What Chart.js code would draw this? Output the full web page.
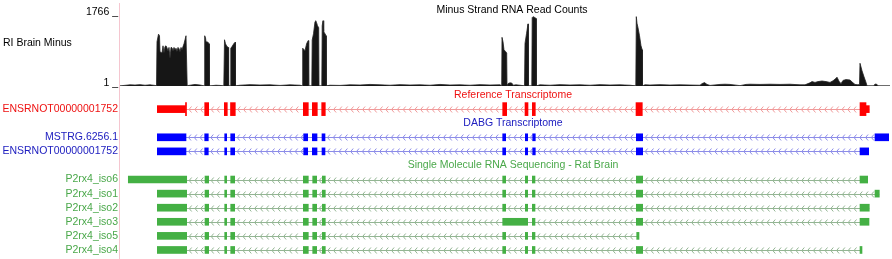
<!DOCTYPE html>
<html>
<head>
<meta charset="utf-8">
<script src="https://cdn.jsdelivr.net/npm/chart.js@4"></script>
<style>
  html, body { margin: 0; padding: 0; background: #fff; }
  #wrap { position: relative; width: 892px; height: 259px; overflow: hidden; }
  #sig { position: absolute; left: 0; top: 0; }
  #genes { position: absolute; left: 0; top: 88px; }
</style>
</head>
<body>
<div id="wrap">
  <canvas id="sig" width="892" height="88"></canvas>
  <canvas id="genes" width="892" height="171"></canvas>
</div>
<script>
// positions are in 100 bp bins from the left edge of the window
var signalPos = [0, 2, 10, 15, 20, 25, 30, 35, 36.5, 37, 38.5, 39.5, 40, 42, 43, 44, 45, 46, 47, 48, 49, 50, 51, 52, 53, 54, 55, 56, 57, 58, 59, 60, 61, 62, 63, 64, 65, 66, 66.8, 67.2,
  70, 75, 80, 83, 84.3, 84.7, 85.5, 86, 88, 89, 89.4, 92, 96, 100, 103.8, 104.5, 105.5, 107, 108.3, 108.6, 110.5, 110.8, 112, 114, 115.2, 115.5,
  120, 130, 140, 150, 160, 170, 180, 182.3, 182.7, 185, 186.7, 188.3, 188.7, 191.8, 192.2, 193.5, 195, 195.7, 196.5, 197.5, 198.7, 199,
  201.8, 202.2, 203, 203.7, 205, 206, 206.3, 210, 220, 230, 240, 250, 260, 270, 280, 290, 300, 310, 320, 330, 340, 350, 360, 370, 380,
  381.7, 382, 383, 384, 385.5, 386.7, 387, 388, 390, 392, 393, 396, 400, 404.5, 405, 406.5, 408, 408.4, 411.8, 412.2, 413, 415, 416, 416.3,
  420, 430, 440, 450, 460, 470, 480, 490, 500, 510, 515.8, 516.3, 517, 518, 519.5, 521, 522.2, 522.5, 525, 530, 540, 550, 560, 570, 580,
  582, 584.5, 587, 590, 600, 605, 610, 620, 626, 630, 640, 650, 660, 670, 680, 685, 690, 692, 695, 698, 702, 706, 710, 713, 715, 717, 719,
  721, 723, 726, 730, 733, 735, 738, 739.5, 740, 742, 744, 746, 747, 754, 755, 757, 758, 770];
var signalVal = [5, 10, 30, 25, 35, 20, 30, 15, 5, 1100, 1290, 1250, 850, 820, 1000, 830, 980, 1000, 950, 870, 960, 700, 960, 950, 880, 960, 900, 940, 860, 960, 930, 850, 960, 900, 980, 1050, 1150, 1250, 1250, 10,
  20, 40, 25, 10, 5, 1250, 1200, 1100, 1090, 1050, 5, 10, 20, 15, 5, 1150, 1050, 980, 960, 5, 5, 940, 980, 1060, 1090, 5,
  20, 35, 25, 30, 15, 30, 20, 5, 940, 880, 1060, 1130, 5, 5, 1145, 1300, 1600, 1625, 1580, 1500, 1450, 5,
  5, 1500, 1625, 1350, 1300, 1250, 5, 20, 15, 30, 25, 40, 30, 20, 35, 25, 30, 20, 40, 25, 30, 20, 35, 25, 30,
  5, 1210, 1100, 900, 860, 820, 5, 60, 80, 70, 20, 30, 20, 5, 1060, 1300, 1545, 5, 5, 1700, 1725, 1700, 1680, 5,
  30, 20, 35, 25, 30, 20, 35, 25, 30, 20, 5, 1725, 1560, 1450, 1250, 1000, 900, 5, 30, 25, 35, 25, 30, 25, 20,
  60, 85, 40, 15, 40, 45, 40, 10, 40, 45, 40, 45, 40, 45, 30, 30, 80, 110, 90, 110, 125, 110, 90, 130, 170, 220, 120,
  60, 140, 160, 150, 80, 40, 30, 40, 565, 380, 230, 90, 5, 5, 50, 40, 5, 5];
var signalTicks = [1, 1766];

// gene model rows, top to bottom
var rowNames = ['', 'ENSRNOT00000001752', '', 'MSTRG.6256.1', 'ENSRNOT00000001752', '',
  'P2rx4_iso6', 'P2rx4_iso1', 'P2rx4_iso2', 'P2rx4_iso3', 'P2rx4_iso5', 'P2rx4_iso4'];
var trackTitles = ['Reference Transcriptome', 'DABG Transcriptome', 'Single Molecule RNA Sequencing - Rat Brain'];

var refUtrExons = [[37.3, 65.5], [746, 749.3]];
var refCdsExons = [[65.5, 66.5], [84.7, 88.7], [104.3, 107.3], [110.5, 115.3], [183.3, 188.3], [192.3, 197.3], [201.7, 205.3],
  [382.7, 386.7], [405, 408], [412.3, 415.3], [516, 522.3], [740, 746]];
var mstrgExons = [[37.3, 66], [84.7, 88.3], [104.7, 106.7], [110.7, 114.7], [183.7, 187.7], [192.3, 197], [202, 205],
  [382.7, 385.7], [405.3, 407.7], [412.7, 415.3], [516.3, 522.7], [755, 768.7]];
var dabgEnsExons = [[37.3, 66], [84.7, 88.3], [104.7, 106.7], [110.7, 114.7], [183.7, 187.7], [192.3, 197], [202, 205],
  [382.7, 385.7], [405.3, 407.7], [412.7, 415.3], [516.3, 522.7], [740, 748.7]];
var iso6Exons = [[8.3, 66.7], [85, 88.7], [104.7, 106.7], [110.7, 114.7], [183.3, 188.3], [192.7, 196.7], [202.3, 205.3],
  [382.7, 385.7], [405.3, 407.7], [412.3, 415], [516.3, 522.7], [740, 747.7]];
var iso1Exons = [[37.3, 66.7], [85, 88.7], [104.7, 106.7], [110.7, 114.7], [183.3, 188.3], [192.7, 196.7], [202.3, 205.3],
  [382.7, 385.7], [405.3, 407.7], [412.3, 415], [516.3, 522.7], [755, 759.3]];
var iso2Exons = [[37.3, 66.7], [85, 88.7], [104.7, 106.7], [110.7, 114.7], [183.3, 188.3], [192.7, 196.7], [202.3, 205.3],
  [382.7, 385.7], [405.3, 407.7], [412.3, 415], [516.3, 522.7], [740, 749.3]];
var iso3Exons = [[37.3, 66.7], [85, 88.7], [104.7, 106.7], [110.7, 114.7], [183.3, 188.3], [192.7, 196.7], [202.3, 205.3],
  [382.7, 407.7], [412.3, 415], [516.3, 522.7], [740, 749]];
var iso5Exons = [[37.3, 66.7], [85, 88.7], [104.7, 106.7], [110.7, 114.7], [183.3, 188.3], [192.7, 196.7], [202.3, 205.3],
  [382.7, 385.7], [405.3, 407.7], [412.3, 415], [516.7, 519]];
var iso4Exons = [[37.3, 66.7], [85, 88.7], [104.7, 106.7], [110.7, 114.7], [183.3, 188.3], [192.7, 196.7], [202.3, 205.3],
  [382.7, 385.7], [405.3, 407.7], [412.3, 415], [516.3, 522.7], [740, 742]];

var RED = '#ff0000', BLUE = '#0000ff', GREEN = '#44b044';
var rowColors = ['', '#ee1111', '', '#2020c0', '#2020c0', '', '#4aa84a', '#4aa84a', '#4aa84a', '#4aa84a', '#4aa84a', '#4aa84a'];
var PINK = '#f5c6d0';
var FONT = "'Liberation Sans', Arial, sans-serif";

Chart.defaults.font.family = FONT;
Chart.defaults.font.size = 10.5;
Chart.defaults.color = '#000';

var XMAX = 772;

function toBars(exons, row) {
  return exons.map(function (e) { return { x: e, y: row }; });
}

// transcripts: row, exons, intron line colour
var transcripts = [
  { row: 1, exons: refUtrExons.concat(refCdsExons), line: '#f09a9a' },
  { row: 3, exons: mstrgExons, line: '#8c8ce8' },
  { row: 4, exons: dabgEnsExons, line: '#8c8ce8' },
  { row: 6, exons: iso6Exons, line: '#93b593' },
  { row: 7, exons: iso1Exons, line: '#93b593' },
  { row: 8, exons: iso2Exons, line: '#93b593' },
  { row: 9, exons: iso3Exons, line: '#93b593' },
  { row: 10, exons: iso5Exons, line: '#93b593' },
  { row: 11, exons: iso4Exons, line: '#93b593' }
];

// fixed-width left axis, no extra label padding above/below the plot
function fitLeft(scale) {
  scale.width = 120;
  scale.paddingTop = 0;
  scale.paddingBottom = 0;
}

var pinkLine = {
  id: 'pinkLine',
  afterDraw: function (chart) {
    var ctx = chart.ctx, x = chart.chartArea.left - 0.5;
    ctx.save();
    ctx.strokeStyle = PINK;
    ctx.lineWidth = 1;
    ctx.beginPath();
    ctx.moveTo(x, chart.canvas.id === 'sig' ? 3 : 0);
    ctx.lineTo(x, chart.height);
    ctx.stroke();
    ctx.restore();
  }
};

// signal track
new Chart(document.getElementById('sig'), {
  type: 'line',
  data: {
    datasets: [{
      data: signalPos.map(function (p, i) { return { x: p, y: signalVal[i] }; }),
      borderColor: '#222',
      backgroundColor: '#161616',
      borderWidth: 0.8,
      pointRadius: 0,
      fill: 'start',
      tension: 0
    }]
  },
  options: {
    responsive: false,
    animation: false,
    events: [],
    layout: { autoPadding: false, padding: { top: 15, bottom: 2, right: 0, left: 0 } },
    plugins: { legend: { display: false }, tooltip: { enabled: false } },
    scales: {
      x: { type: 'linear', min: 0, max: XMAX, display: false },
      y: {
        type: 'linear', min: 1, max: 1766,
        grid: { display: false, drawTicks: false },
        border: { display: false },
        afterBuildTicks: function (scale) {
          scale.ticks = signalTicks.map(function (v) { return { value: v }; });
        },
        afterFit: fitLeft,
        ticks: {
          padding: 2,
          labelOffset: -3,
          autoSkip: false,
          font: { size: 10.5 },
          callback: function (v) { return v + ' _'; }
        }
      }
    }
  },
  plugins: [pinkLine, {
    id: 'sigText',
    afterDraw: function (chart) {
      var ctx = chart.ctx;
      ctx.save();
      ctx.fillStyle = '#000';
      ctx.font = '10.5px ' + FONT;
      ctx.textBaseline = 'middle';
      ctx.textAlign = 'left';
      ctx.fillText('RI Brain Minus', 3, 43);
      ctx.textAlign = 'center';
      ctx.fillText('Minus Strand RNA Read Counts', chart.scales.x.getPixelForValue(392), 10);
      ctx.restore();
    }
  }]
});

// gene model tracks
new Chart(document.getElementById('genes'), {
  type: 'bar',
  data: {
    datasets: [
      { data: toBars(refUtrExons, 1), backgroundColor: RED, barThickness: 7 },
      { data: toBars(refCdsExons, 1), backgroundColor: RED, barThickness: 13 },
      { data: toBars(mstrgExons, 3).concat(toBars(dabgEnsExons, 4)), backgroundColor: BLUE, barThickness: 7 },
      {
        data: toBars(iso6Exons, 6).concat(toBars(iso1Exons, 7), toBars(iso2Exons, 8),
          toBars(iso3Exons, 9), toBars(iso5Exons, 10), toBars(iso4Exons, 11)),
        backgroundColor: GREEN, barThickness: 7
      }
    ]
  },
  options: {
    indexAxis: 'y',
    responsive: false,
    animation: false,
    events: [],
    datasets: { bar: { grouped: false, borderWidth: 0, borderSkipped: false } },
    layout: { autoPadding: false, padding: { top: 0, bottom: 2, right: 0, left: 0 } },
    plugins: { legend: { display: false }, tooltip: { enabled: false } },
    scales: {
      x: { type: 'linear', min: 0, max: XMAX, display: false },
      y: {
        type: 'linear', min: -0.5, max: 11.5, reverse: true, offset: false,
        grid: { display: false, drawTicks: false, offset: false },
        border: { display: false },
        afterBuildTicks: function (scale) {
          scale.ticks = rowNames.map(function (n, i) { return { value: i }; });
        },
        afterFit: fitLeft,
        ticks: {
          padding: 2,
          autoSkip: false,
          font: { size: 10.5 },
          callback: function (v) { return rowNames[v]; },
          color: function (c) { return rowColors[c.tick.value] || '#000'; }
        }
      }
    }
  },
  plugins: [pinkLine, {
    id: 'introns',
    beforeDatasetsDraw: function (chart) {
      var ctx = chart.ctx, xs = chart.scales.x, ys = chart.scales.y;
      ctx.save();
      ctx.lineWidth = 1;
      transcripts.forEach(function (t) {
        var y = Math.round(ys.getPixelForValue(t.row)) + 0.5;
        var ex = t.exons.slice().sort(function (a, b) { return a[0] - b[0]; });
        var x0 = xs.getPixelForValue(ex[0][0]);
        var x1 = xs.getPixelForValue(ex[ex.length - 1][1]);
        ctx.strokeStyle = t.line;
        ctx.beginPath();
        ctx.moveTo(x0, y);
        ctx.lineTo(x1, y);
        ctx.stroke();
        // strand chevrons inside each intron
        for (var i = 0; i < ex.length - 1; i++) {
          var a = xs.getPixelForValue(ex[i][1]);
          var b = xs.getPixelForValue(ex[i + 1][0]);
          for (var cx = a + 3; cx < b - 2; cx += 5.8) {
            ctx.beginPath();
            ctx.moveTo(cx + 2, y - 3);
            ctx.lineTo(cx - 0.5, y);
            ctx.lineTo(cx + 2, y + 3);
            ctx.stroke();
          }
        }
      });
      ctx.restore();
    },
    afterDraw: function (chart) {
      var ctx = chart.ctx, xs = chart.scales.x, ys = chart.scales.y;
      var titleRows = [0, 2, 5];
      var titleColors = ['#ee1111', '#2020c0', '#4aa84a'];
      ctx.save();
      ctx.font = '10.5px ' + FONT;
      ctx.textAlign = 'center';
      ctx.textBaseline = 'middle';
      trackTitles.forEach(function (t, i) {
        ctx.fillStyle = titleColors[i];
        ctx.fillText(t, xs.getPixelForValue(393), ys.getPixelForValue(titleRows[i]));
      });
      ctx.restore();
    }
  }]
});
</script>
</body>
</html>
